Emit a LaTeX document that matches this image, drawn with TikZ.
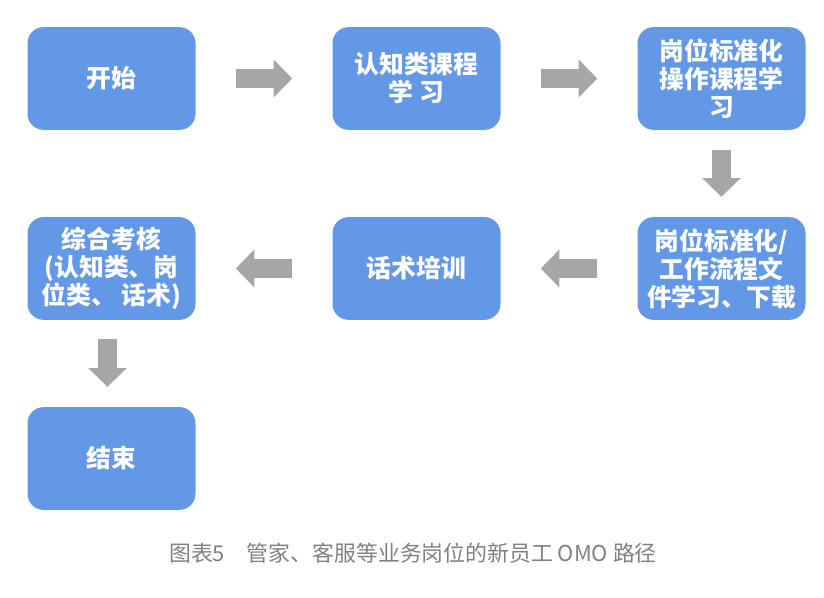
\documentclass[tikz,border=0pt]{standalone}
\usepackage{fontspec}
\usepackage{tikz}
\usetikzlibrary{arrows.meta}
\newfontfamily\cjk{Noto Sans CJK SC}
\definecolor{boxblue}{RGB}{98,152,229}
\definecolor{arrowgray}{RGB}{166,166,166}
\definecolor{captiongray}{RGB}{128,128,128}

\begin{document}
\begin{tikzpicture}[x=0.75pt,y=-0.75pt]
\tikzstyle{flowbox}=[fill=boxblue, rounded corners=12pt, minimum width=126pt, minimum height=77pt, inner sep=0pt, align=center, text=white, font=\cjk\bfseries\fontsize{18.6}{21}\selectfont]
\tikzstyle{grayarrow}=[draw=arrowgray, line width=14.25pt, -{Triangle[width=27.75pt,length=14pt]}, arrowgray]
\useasboundingbox (0,0) rectangle (824,598);
% first row
\node [flowbox] (start) at (111.5,78.5) {开始};
\node [flowbox] (know) at (416.5,78.5) {认知类课程\\学 习};
\node [flowbox] (std) at (721.5,78.5) {岗位标准化\\操作课程学\\习};
% second row
\node [flowbox] (exam) at (111.5,268.5) {综合考核\\(认知类、岗\\位类、 话术)};
\node [flowbox] (talk) at (416.5,268.5) {话术培训};
\node [flowbox] (file) at (721.5,268.5) {岗位标准化/\\工作流程文\\件学习、下载};
% last row
\node [flowbox] (finish) at (111.5,458.5) {结束};
% arrows
\draw [grayarrow] ([xshift=30pt]start.east) -- ([xshift=-30pt]know.west);
\draw [grayarrow] ([xshift=30pt]know.east) -- ([xshift=-30pt]std.west);
\draw [grayarrow] ([yshift=-15pt]std.south) -- ([yshift=15pt]file.north);
\draw [grayarrow] ([xshift=-30pt]file.west) -- ([xshift=30pt]talk.east);
\draw [grayarrow] ([xshift=-30pt]talk.west) -- ([xshift=30pt]exam.east);
\draw [grayarrow] ([xshift=-3pt,yshift=-14pt]exam.south) -- ([xshift=-3pt,yshift=15pt]finish.north);
% caption
\node [text=captiongray, font=\cjk\fontsize{16.4}{19}\selectfont] (caption) at (413,553) {图表5\hspace{1em}管家、客服等业务岗位的新员工 OMO 路径};
\end{tikzpicture}
\end{document}
